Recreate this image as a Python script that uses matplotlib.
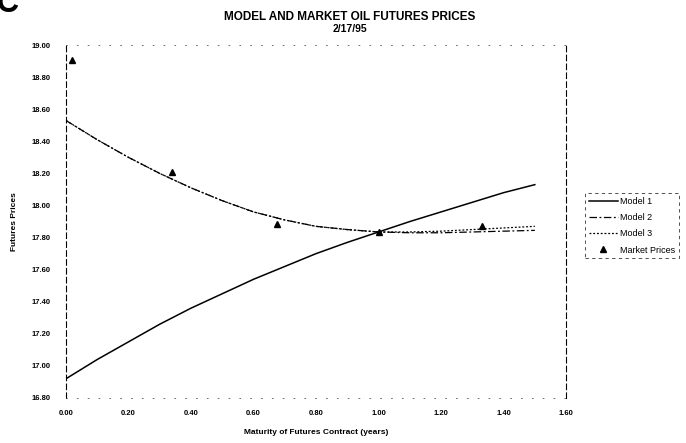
import matplotlib
matplotlib.use('Agg')
import matplotlib.pyplot as plt
import numpy as np

plt.rcParams['font.family'] = ['Liberation Sans', 'DejaVu Sans']

#------------------------------------------------------------------------------
# data

maturity = [0.0, 0.1, 0.2, 0.3, 0.4, 0.5, 0.6, 0.7,
            0.8, 0.9, 1.0, 1.1, 1.2, 1.3, 1.4, 1.5]

model_1 = [16.92, 17.04, 17.15, 17.26, 17.36, 17.45, 17.54, 17.62,
           17.70, 17.77, 17.835, 17.90, 17.96, 18.02, 18.08, 18.13]

model_2 = [18.53, 18.41, 18.30, 18.20, 18.11, 18.03, 17.96, 17.91,
           17.87, 17.85, 17.835, 17.83, 17.83, 17.835, 17.84, 17.845]

model_3 = [18.53, 18.41, 18.30, 18.20, 18.11, 18.03, 17.96, 17.91,
           17.87, 17.85, 17.835, 17.835, 17.84, 17.85, 17.86, 17.87]

market_maturity = [0.02, 0.34, 0.675, 1.0, 1.33]
market_price    = [18.91, 18.21, 17.885, 17.835, 17.87]

x_ticks = [0.0, 0.2, 0.4, 0.6, 0.8, 1.0, 1.2, 1.4, 1.6]
y_ticks = [16.8, 17.0, 17.2, 17.4, 17.6, 17.8, 18.0, 18.2, 18.4, 18.6, 18.8, 19.0]


def main():

    fig = plt.figure(figsize=(6.86, 4.43), dpi=100)
    ax = fig.add_axes([0.0962, 0.1016, 0.729, 0.7966])

    ax.plot(maturity, model_1, 'k-', lw=1.1, label='Model 1')
    ax.plot(maturity, model_2, color='k', ls=(0, (6, 2, 1.5, 2)), lw=0.9,
            label='Model 2')
    ax.plot(maturity, model_3, color='k', ls=(0, (1.5, 1.5)), lw=0.9,
            label='Model 3')
    ax.plot(market_maturity, market_price, 'k^', ms=4, ls='none',
            label='Market Prices')

    ax.set_xlim(0.0, 1.6)
    ax.set_ylim(16.8, 19.0)
    ax.set_xticks(x_ticks)
    ax.set_yticks(y_ticks)
    ax.set_xticklabels(['%.2f' % t for t in x_ticks])
    ax.set_yticklabels(['%.2f' % t for t in y_ticks])
    ax.tick_params(length=0, labelsize=5.5, pad=9)
    ax.tick_params(axis='y', pad=11)
    for lab in ax.get_xticklabels() + ax.get_yticklabels():
        lab.set_fontweight('bold')

    # faded frame, as in the scanned original
    for side in ['left', 'right']:
        ax.spines[side].set_linestyle((0, (5, 3)))
        ax.spines[side].set_linewidth(0.8)
    for side in ['top', 'bottom']:
        ax.spines[side].set_linestyle((0, (1, 12)))
        ax.spines[side].set_linewidth(0.6)
        ax.spines[side].set_color('#555555')

    ax.set_xlabel('Maturity of Futures Contract (years)', fontsize=6,
                  fontweight='bold', labelpad=8)
    ax.set_ylabel('Futures Prices', fontsize=6, fontweight='bold',
                  labelpad=10)

    fig.text(0.51, 0.962, 'MODEL AND MARKET OIL FUTURES PRICES',
             ha='center', va='center', fontsize=8.5, fontweight='bold')
    fig.text(0.51, 0.935, '2/17/95', ha='center', va='center',
             fontsize=7.5, fontweight='bold')
    fig.text(-0.005, 0.99, 'C', ha='left', va='center', fontsize=22,
             fontweight='bold')

    leg = ax.legend(loc='upper left', bbox_to_anchor=(1.038, 0.58),
                    fontsize=6.5, frameon=True, fancybox=False,
                    handlelength=3.2, handletextpad=0.3, borderpad=0.4,
                    labelspacing=0.8, borderaxespad=0)
    leg.get_frame().set_edgecolor('k')
    leg.get_frame().set_linewidth(0.6)
    leg.get_frame().set_linestyle((0, (4, 4)))

    fig.savefig('out.png', dpi=100)


if __name__ == "__main__":
    main()
